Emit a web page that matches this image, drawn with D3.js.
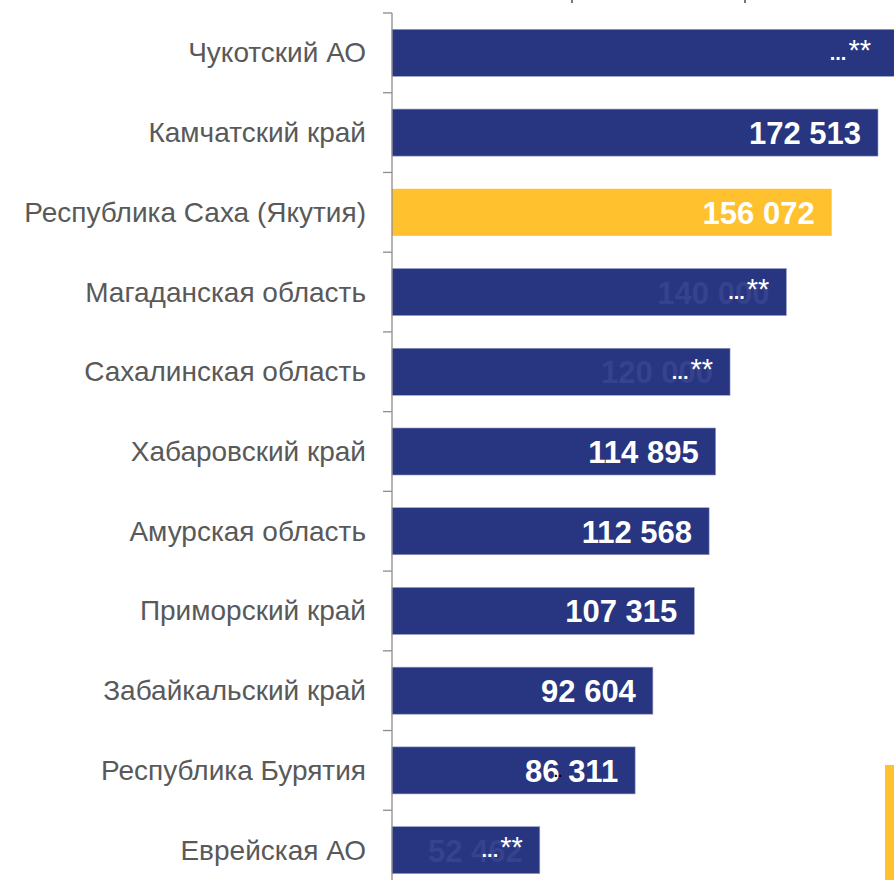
<!DOCTYPE html>
<html>
<head>
<meta charset="utf-8">
<script src="https://cdn.jsdelivr.net/npm/d3@7"></script>
<style>
  html, body { margin: 0; padding: 0; background: #ffffff; overflow: hidden; }
  text { font-family: "Liberation Sans", Arial, sans-serif; }
</style>
</head>
<body>
<script>
// Регионы ДФО, сверху вниз
const regions = [
  'Чукотский АО',
  'Камчатский край',
  'Республика Саха (Якутия)',
  'Магаданская область',
  'Сахалинская область',
  'Хабаровский край',
  'Амурская область',
  'Приморский край',
  'Забайкальский край',
  'Республика Бурятия',
  'Еврейская АО',
];

// Values (Chukotka is off the picture, estimated)
const values = [179000, 172513, 156072, 140000, 120000, 114895, 112568, 107315, 92604, 86311, 52462];

// Rows whose value is hidden behind "...**"
const hidden = [true, false, false, true, true, false, false, false, false, false, true];

const highlight = 'Республика Саха (Якутия)';

const Constants = {
  width: 894,
  height: 880,
  axisX: 392,
  pxPerUnit: 486 / 172513,
  bandTop: 13,
  bandBottom: 890,
  navy: '#283580',
  navyDim: '#36428d',
  yellow: '#FFC22E',
  labelColor: '#595959',
  axisColor: '#8c8c8c',
  valuePad: 17,
};

const fmt = d3.formatLocale({ decimal: ',', thousands: ' ', grouping: [3] }).format(',d');

const rows = regions.map((name, i) => ({ name, value: values[i], hidden: hidden[i] }));

const svg = d3.select('body')
  .append('svg')
  .attr('width', Constants.width)
  .attr('height', Constants.height);

const maxValue = 200000;
const x = d3.scaleLinear()
  .domain([0, maxValue])
  .range([Constants.axisX, Constants.axisX + maxValue * Constants.pxPerUnit]);

const y = d3.scaleBand()
  .domain(regions)
  .range([Constants.bandTop, Constants.bandBottom])
  .paddingInner(0.41)
  .paddingOuter(0.205);

// Bars
svg.selectAll('.bar')
  .data(rows)
  .enter()
  .append('rect')
  .attr('class', 'bar')
  .attr('x', x(0))
  .attr('y', d => y(d.name))
  .attr('width', d => x(d.value) - x(0))
  .attr('height', y.bandwidth())
  .attr('fill', d => (d.name === highlight ? Constants.yellow : Constants.navy))
  .attr('stroke', d => (d.name === highlight ? 'none' : '#9aa0c8'))
  .attr('stroke-width', 0.6);

// Axis with ticks between categories
const axisG = svg.append('g');
axisG.append('line')
  .attr('x1', Constants.axisX).attr('x2', Constants.axisX)
  .attr('y1', Constants.bandTop).attr('y2', Constants.height)
  .attr('stroke', Constants.axisColor)
  .attr('stroke-width', 1.3);

const step = y.step();
const tickYs = d3.range(regions.length).map(i => Constants.bandTop + i * step);
axisG.selectAll('.tick')
  .data(tickYs)
  .enter()
  .append('line')
  .attr('x1', Constants.axisX - 9).attr('x2', Constants.axisX)
  .attr('y1', d => d).attr('y2', d => d)
  .attr('stroke', Constants.axisColor)
  .attr('stroke-width', 1.3);

// Category labels
svg.selectAll('.label')
  .data(rows)
  .enter()
  .append('text')
  .attr('x', Constants.axisX - 26)
  .attr('y', d => y(d.name) + y.bandwidth() / 2)
  .attr('text-anchor', 'end')
  .attr('dominant-baseline', 'central')
  .style('font-size', '28px')
  .style('fill', Constants.labelColor)
  .text(d => d.name);

// Value labels
const valueEnd = d => Math.min(x(d.value), Constants.width - 6) - Constants.valuePad;

svg.selectAll('.value')
  .data(rows.filter(d => !d.hidden))
  .enter()
  .append('text')
  .attr('x', valueEnd)
  .attr('y', d => y(d.name) + y.bandwidth() / 2 + 1)
  .attr('text-anchor', 'end')
  .attr('dominant-baseline', 'central')
  .style('font-size', '31px')
  .style('font-weight', 'bold')
  .style('fill', '#ffffff')
  .text(d => fmt(d.value));

// Hidden values: dim number under the "...**" mark
svg.selectAll('.dim')
  .data(rows.filter(d => d.hidden && x(d.value) < Constants.width))
  .enter()
  .append('text')
  .attr('x', valueEnd)
  .attr('y', d => y(d.name) + y.bandwidth() / 2 + 1)
  .attr('text-anchor', 'end')
  .attr('dominant-baseline', 'central')
  .style('font-size', '31px')
  .style('font-weight', 'bold')
  .style('fill', Constants.navyDim)
  .text(d => fmt(d.value));

const mark = svg.selectAll('.mark')
  .data(rows.filter(d => d.hidden))
  .enter()
  .append('text')
  .attr('x', valueEnd)
  .attr('y', d => y(d.name) + y.bandwidth() / 2 + 7)
  .attr('text-anchor', 'end')
  .style('fill', '#ffffff');
mark.append('tspan')
  .style('font-size', '20px')
  .style('font-weight', 'bold')
  .text('...');
mark.append('tspan')
  .attr('dx', 2)
  .style('font-size', '29px')
  .text('**');

// Stray black dots in the Buryatia label
const buryatia = rows.find(d => d.name === 'Республика Бурятия');
svg.append('text')
  .attr('x', x(buryatia.value) - 73)
  .attr('y', y(buryatia.name) + y.bandwidth() / 2 + 7)
  .attr('text-anchor', 'end')
  .style('font-size', '15px')
  .style('font-weight', 'bold')
  .style('fill', '#000000')
  .text('..');

// Cut-off remains of a title above the frame
svg.selectAll('.remnant')
  .data([571, 744])
  .enter()
  .append('rect')
  .attr('x', d => d)
  .attr('y', 0)
  .attr('width', 2)
  .attr('height', 3)
  .attr('fill', '#777777');

// Yellow side strip at bottom right
svg.append('rect')
  .attr('x', 885)
  .attr('y', 765)
  .attr('width', 9)
  .attr('height', Constants.height - 765)
  .attr('fill', Constants.yellow);
</script>
</body>
</html>
